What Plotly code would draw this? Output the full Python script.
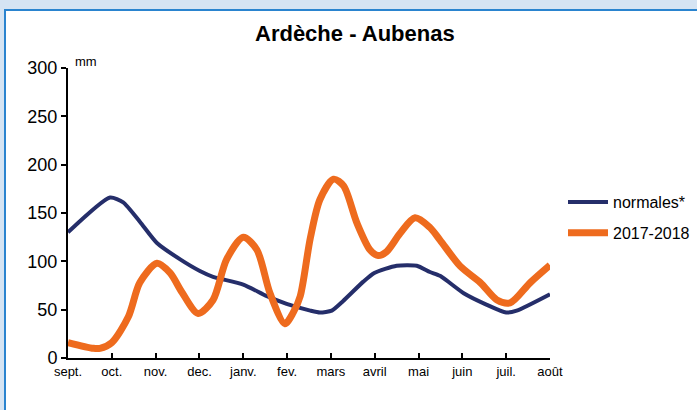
import plotly.graph_objects as go

mois = ["sept.", "oct.", "nov.", "dec.", "janv.", "fev.", "mars", "avril", "mai", "juin", "juil.", "août"]

# month position (0 = sept., 11 = août) and precipitation (mm)
normales_pos = [0.0, 0.96, 1.26, 1.64, 2.03, 2.56, 3.01, 3.31, 4.0, 4.54, 4.99, 5.53, 5.75, 6.02,
                6.28, 6.74, 6.99, 7.5, 7.96, 8.26, 8.49, 9.03, 9.56, 10.0, 10.24, 11.0]
normales_mm = [130, 166, 161, 141, 119, 102, 90, 84, 76, 64, 56, 49, 47, 49,
               59, 79, 88, 95.5, 95.5, 89, 85, 67, 55, 47, 49, 66]

annee_pos = [0.0, 0.58, 0.73, 1.0, 1.38, 1.64, 2.03, 2.33, 2.6, 2.97, 3.31, 3.62, 4.0,
             4.31, 4.61, 4.95, 5.14, 5.30, 5.53, 5.75, 6.06, 6.29, 6.59, 6.89, 7.08, 7.27,
             7.58, 7.92, 8.26, 8.49, 8.95, 9.41, 9.79, 10.09, 10.55, 11.0]
annee_mm = [16, 10, 10, 16, 43, 78, 98, 88, 68, 46, 60, 102, 125,
            112, 67, 35.5, 47, 64, 124, 164, 185, 178, 140, 112, 106, 110,
            129, 145, 135, 122, 95, 78, 60, 57, 78, 96]

y_ticks = [0, 50, 100, 150, 200, 250, 300]

FONT = "Liberation Sans, Arial, sans-serif"
W, H = 697, 410
L, R, T, B = 68, 147, 68, 52
pw, ph = W - L - R, H - T - B

def px_to_paper_x(px):
    return (px - L) / pw

def py_to_paper_y(py):
    return (H - B - py) / ph

fig = go.Figure()
fig.add_trace(go.Scatter(
    x=normales_pos, y=normales_mm, mode="lines", name="normales*",
    line=dict(color="#252e6a", width=4, shape="spline", smoothing=0.6),
    legendgroup="a"))
fig.add_trace(go.Scatter(
    x=annee_pos, y=annee_mm, mode="lines", name="2017-2018",
    line=dict(color="#ee6b1e", width=7, shape="spline", smoothing=0.8),
    legendgroup="b"))

fig.update_layout(
    width=W, height=H,
    margin=dict(l=L, r=R, t=T, b=B, pad=0, autoexpand=False),
    paper_bgcolor="#d5e4f3",
    plot_bgcolor="white",
    font=dict(family=FONT, color="black"),
    showlegend=True,
    legend=dict(x=px_to_paper_x(563), y=py_to_paper_y(185), xanchor="left", yanchor="top",
                font=dict(size=16, family=FONT), bgcolor="rgba(0,0,0,0)",
                traceorder="grouped", tracegroupgap=7, itemwidth=40),
    shapes=[dict(type="rect", xref="paper", yref="paper", layer="below",
                 x0=px_to_paper_x(5), x1=px_to_paper_x(705),
                 y0=py_to_paper_y(420), y1=py_to_paper_y(10),
                 fillcolor="white", line=dict(color="#2a84cf", width=2))],
    annotations=[
        dict(text="<b>Ardèche - Aubenas</b>", xref="paper", yref="paper",
             x=px_to_paper_x(355), y=py_to_paper_y(33), xanchor="center", yanchor="middle",
             showarrow=False, font=dict(size=22, family=FONT)),
        dict(text="mm", xref="paper", yref="paper",
             x=px_to_paper_x(73), y=py_to_paper_y(61), xanchor="left", yanchor="middle",
             showarrow=False, font=dict(size=13, family=FONT)),
    ],
)

fig.update_xaxes(range=[0, 11], tickvals=list(range(12)), ticktext=mois,
                 showline=True, linecolor="black", linewidth=2,
                 ticks="inside", ticklen=5, tickwidth=2, tickcolor="black",
                 showgrid=False, zeroline=False, fixedrange=True,
                 tickfont=dict(size=13, family=FONT))
fig.update_yaxes(range=[0, 300], tickvals=y_ticks,
                 showline=True, linecolor="black", linewidth=2,
                 ticks="outside", ticklen=5, tickwidth=2, tickcolor="black",
                 showgrid=False, zeroline=False, fixedrange=True,
                 tickfont=dict(size=18, family=FONT))

fig.write_html("out.html", config={"displayModeBar": False},
               post_script="document.body.style.margin='0';document.body.style.overflow='hidden';")
